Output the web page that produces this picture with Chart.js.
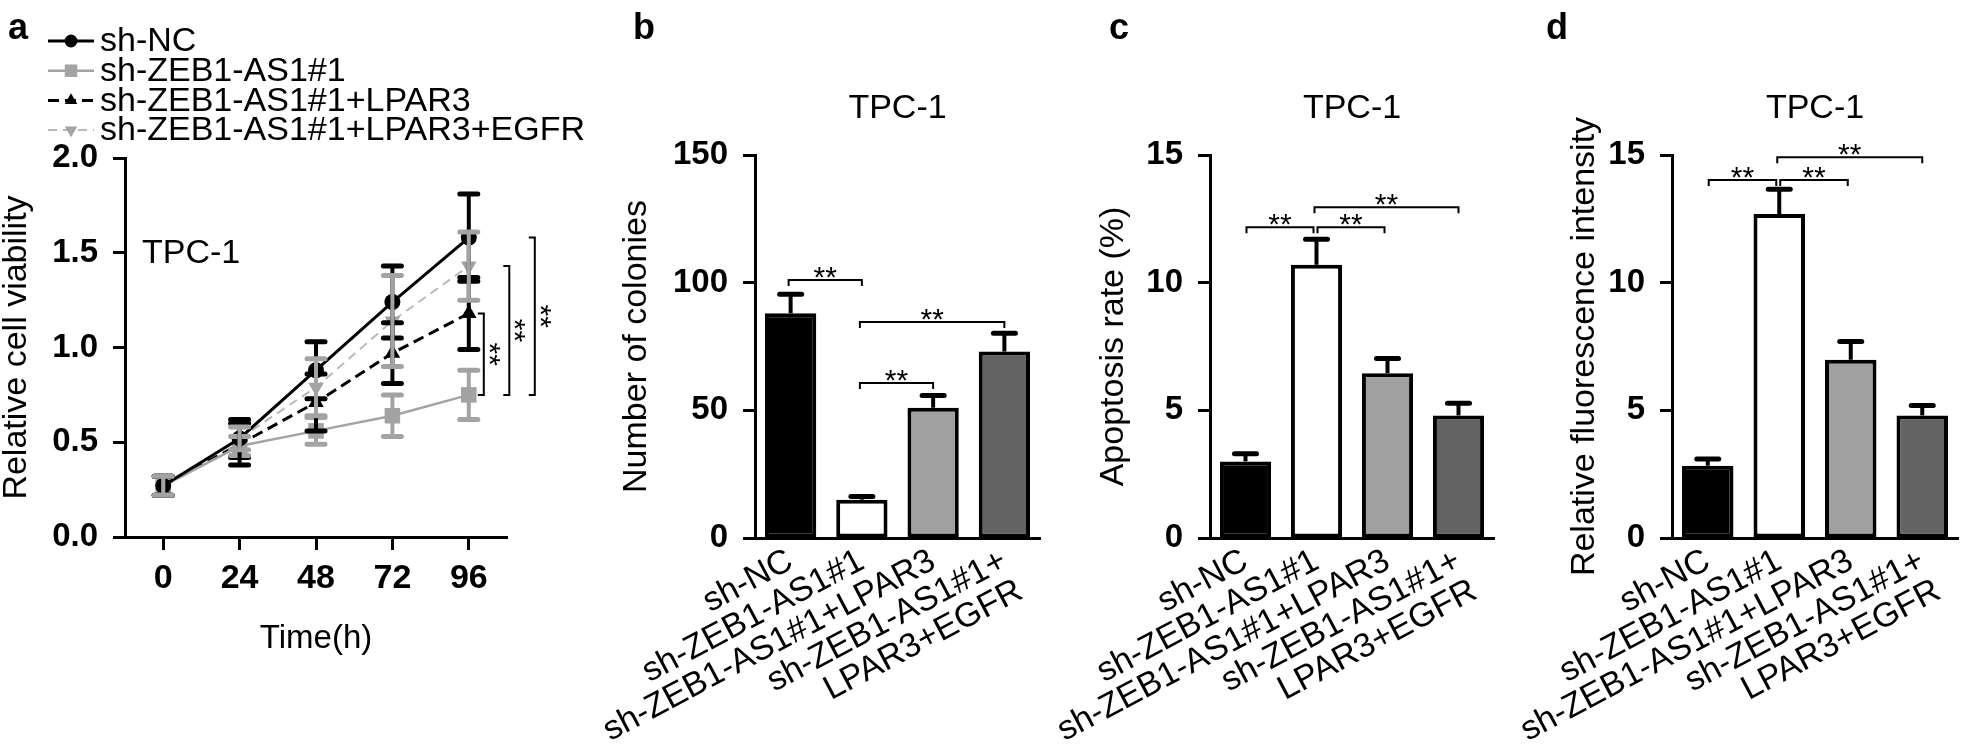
<!DOCTYPE html>
<html>
<head>
  <meta charset="utf-8">
  <title>TPC-1 viability, colonies, apoptosis, fluorescence</title>
  <script src="https://cdn.jsdelivr.net/npm/chart.js@4.4.1/dist/chart.umd.min.js"></script>
  <style>
    html, body { margin: 0; padding: 0; background: #ffffff; }
    #fig { position: relative; width: 1961px; height: 749px; overflow: hidden; }
    #fig canvas { position: absolute; left: 0; top: 0; }
  </style>
</head>
<body>
<div id="fig">
  <canvas id="chartA" width="1961" height="749"></canvas>
  <canvas id="chartB" width="1961" height="749"></canvas>
  <canvas id="chartC" width="1961" height="749"></canvas>
  <canvas id="chartD" width="1961" height="749"></canvas>
</div>
<script>
var FONT = "'Liberation Sans', Arial, Helvetica, sans-serif";

// ---- panel a : relative cell viability over time
var hours = [0, 24, 48, 72, 96];
var hourTicks = [0, 24, 48, 72, 96];
var viabTicks = [0, 0.5, 1.0, 1.5, 2.0];
var groupNames = ['sh-NC', 'sh-ZEB1-AS1#1', 'sh-ZEB1-AS1#1+LPAR3', 'sh-ZEB1-AS1#1+LPAR3+EGFR'];
var ncViab     = [0.27, 0.52, 0.88, 1.24, 1.58];
var ncViabSd   = [0.05, 0.10, 0.15, 0.19, 0.23];
var zebViab    = [0.27, 0.48, 0.56, 0.64, 0.75];
var zebViabSd  = [0.05, 0.05, 0.07, 0.11, 0.13];
var lparViab   = [0.27, 0.49, 0.71, 0.97, 1.18];
var lparViabSd = [0.05, 0.11, 0.15, 0.16, 0.19];
var egfrViab   = [0.27, 0.52, 0.79, 1.14, 1.43];
var egfrViabSd = [0.05, 0.06, 0.15, 0.24, 0.18];
// ** at 96 h, each group against sh-ZEB1-AS1#1 (index 1)
var viabSig = [2, 3, 0];

// ---- panels b, c, d : bar charts
var barLabels = [['sh-NC'], ['sh-ZEB1-AS1#1'], ['sh-ZEB1-AS1#1+LPAR3'], ['sh-ZEB1-AS1#1+', 'LPAR3+EGFR']];
var colonies     = [88, 15, 51, 73];
var coloniesSd   = [7.5, 1.3, 4.8, 7.2];
var colonyTicks  = [0, 50, 100, 150];
var colonySig    = [[0, 1, 101], [1, 3, 84.6], [1, 2, 60.7]];
var apoptosis    = [3.0, 10.7, 6.45, 4.8];
var apoptosisSd  = [0.3, 1.0, 0.58, 0.48];
var apoptosisTicks = [0, 5, 10, 15];
var apoptosisSig = [[0, 1, 12.17], [1, 2, 12.17], [1, 3, 12.95]];
var fluor        = [2.83, 12.69, 6.98, 4.8];
var fluorSd      = [0.26, 0.97, 0.72, 0.39];
var fluorTicks   = [0, 5, 10, 15];
var fluorSig     = [[0, 1, 14.02], [1, 2, 14.02], [1, 3, 14.91]];

var barFills = ['#000000', '#ffffff', '#a0a0a0', '#636363'];

Chart.defaults.font.family = FONT;
Chart.defaults.color = '#000';

function seg(ctx, x1, y1, x2, y2) {
  ctx.beginPath(); ctx.moveTo(x1, y1); ctx.lineTo(x2, y2); ctx.stroke();
}

function marker(ctx, style, x, y, r, rot, color) {
  ctx.save();
  ctx.fillStyle = color;
  ctx.beginPath();
  if (style === 'circle') {
    ctx.arc(x, y, r, 0, Math.PI * 2);
  } else if (style === 'rect') {
    var s = r * Math.SQRT1_2;
    ctx.rect(x - s, y - s, 2 * s, 2 * s);
  } else {
    var a = (rot || 0) * Math.PI / 180;
    for (var k = 0; k < 3; k++) {
      var t = a + k * 2 * Math.PI / 3;
      if (k === 0) ctx.moveTo(x + Math.sin(t) * r, y - Math.cos(t) * r);
      else ctx.lineTo(x + Math.sin(t) * r, y - Math.cos(t) * r);
    }
    ctx.closePath();
  }
  ctx.fill();
  ctx.restore();
}

function stars(ctx, x, y, vertical) {
  ctx.save();
  ctx.fillStyle = '#000';
  ctx.font = '30px ' + FONT;
  ctx.textAlign = 'center';
  ctx.textBaseline = 'alphabetic';
  if (vertical) {
    ctx.translate(x - 17, y);
    ctx.rotate(Math.PI / 2);
    ctx.fillText('**', 0, 0);
  } else {
    ctx.fillText('**', x, y + 17);
  }
  ctx.restore();
}

function fixBox(w, h) {
  return function(scale) {
    if (w !== null) scale.width = w;
    if (h !== null) scale.height = h;
    scale.paddingLeft = 0; scale.paddingRight = 0;
    scale.paddingTop = 0; scale.paddingBottom = 0;
  };
}

function tickList(list) {
  return function(scale) {
    scale.ticks = list.map(function(v) { return { value: v }; });
  };
}

var decoPlugin = {
  id: 'deco',
  afterDatasetsDraw: function(chart, args, o) {
    var ctx = chart.ctx, ys = chart.scales.y, xs = chart.scales.x;
    ctx.save();
    if (o.kind === 'line') {
      chart.data.datasets.forEach(function(ds, i) {
        ctx.strokeStyle = o.errColors[i];
        o.errors[i].forEach(function(e, j) {
          var px = xs.getPixelForValue(ds.data[j].x);
          var hi = ys.getPixelForValue(ds.data[j].y + e);
          var lo = ys.getPixelForValue(ds.data[j].y - e);
          ctx.lineCap = 'butt'; ctx.lineWidth = 4;
          seg(ctx, px, hi, px, lo);
          ctx.lineCap = 'round'; ctx.lineWidth = 5;
          seg(ctx, px - 9, hi, px + 9, hi);
          seg(ctx, px - 9, lo, px + 9, lo);
        });
      });
    } else {
      var meta = chart.getDatasetMeta(0);
      var vals = chart.data.datasets[0].data;
      ctx.strokeStyle = '#000';
      meta.data.forEach(function(bar, j) {
        var top = ys.getPixelForValue(vals[j]);
        var hi = ys.getPixelForValue(vals[j] + o.errors[j]);
        ctx.lineCap = 'butt'; ctx.lineWidth = 4;
        seg(ctx, bar.x, top, bar.x, hi);
        ctx.lineCap = 'round'; ctx.lineWidth = 5;
        seg(ctx, bar.x - 11, hi, bar.x + 11, hi);
      });
    }
    ctx.restore();
  },
  afterDraw: function(chart, args, o) {
    var ctx = chart.ctx, ys = chart.scales.y, xs = chart.scales.x, area = chart.chartArea;
    ctx.save();
    ctx.fillStyle = '#000';
    ctx.strokeStyle = '#000';
    // panel letter
    ctx.font = 'bold 36px ' + FONT;
    ctx.textAlign = 'left';
    ctx.textBaseline = 'alphabetic';
    ctx.fillText(o.letter, o.letterX, 39);
    // cell line name
    ctx.font = '34px ' + FONT;
    ctx.textBaseline = 'middle';
    if (o.kind === 'line') {
      ctx.fillText('TPC-1', area.left + 17, 254);
    } else {
      ctx.textAlign = 'center';
      ctx.fillText('TPC-1', (area.left + area.right) / 2, 109);
    }

    if (o.kind === 'line') {
      // legend
      chart.data.datasets.forEach(function(ds, i) {
        var y = 41 + i * 29.7;
        ctx.save();
        ctx.strokeStyle = ds.borderColor;
        ctx.lineWidth = ds.borderWidth;
        ctx.setLineDash(ds.borderDash || []);
        seg(ctx, 48, y, 94, y);
        ctx.setLineDash([]);
        marker(ctx, ds.pointStyle, 71, y, ds.pointRadius * 0.8, ds.pointRotation, ds.pointBackgroundColor);
        ctx.fillStyle = '#000';
        ctx.font = '34px ' + FONT;
        ctx.textAlign = 'left';
        ctx.textBaseline = 'middle';
        ctx.fillText(ds.label, 100, y + 1);
        ctx.restore();
      });
      // vertical significance brackets at the last time point
      var last = hours.length - 1;
      var base = xs.getPixelForValue(hours[last]);
      var lo = ys.getPixelForValue(chart.data.datasets[1].data[last].y);
      ctx.lineWidth = 2;
      o.sig.forEach(function(g, k) {
        var bx = base + 15 + k * 25.5;
        var hi = ys.getPixelForValue(chart.data.datasets[g].data[last].y);
        ctx.beginPath();
        ctx.moveTo(bx - 6, hi); ctx.lineTo(bx, hi); ctx.lineTo(bx, lo); ctx.lineTo(bx - 6, lo);
        ctx.stroke();
        stars(ctx, bx + 13, (hi + lo) / 2, true);
      });
    } else {
      ctx.lineWidth = 2;
      o.sig.forEach(function(s) {
        var shared = o.sig.some(function(t) { return t !== s && t[2] === s[2]; });
        var x1 = xs.getPixelForValue(s[0]) + (shared ? 3 : 0) - 2;
        var x2 = xs.getPixelForValue(s[1]) - (shared ? 3 : 0);
        var y = ys.getPixelForValue(s[2]);
        ctx.beginPath();
        ctx.moveTo(x1, y + 6); ctx.lineTo(x1, y); ctx.lineTo(x2, y); ctx.lineTo(x2, y + 6);
        ctx.stroke();
        stars(ctx, (x1 + x2) / 2, y - 10, false);
      });
    }
    ctx.restore();
  }
};

function yAxis(list, max, title, width, fmt) {
  return {
    min: 0, max: max,
    afterBuildTicks: tickList(list),
    afterFit: fixBox(width, null),
    grid: { display: true, drawOnChartArea: false, drawTicks: true, tickLength: 12, tickWidth: 3, tickColor: '#000' },
    border: { display: true, color: '#000', width: 3 },
    ticks: { font: { size: 33, weight: 'bold' }, padding: 15, color: '#000', callback: fmt },
    title: { display: true, text: title, font: { size: 34, lineHeight: 1 }, padding: { top: 0, bottom: 0 }, color: '#000' }
  };
}

// ---- panel a
new Chart(document.getElementById('chartA'), {
  type: 'line',
  data: {
    datasets: [
      { label: groupNames[0], data: hours.map(function(h, i) { return { x: h, y: ncViab[i] }; }),
        borderColor: '#000', backgroundColor: '#000', pointBackgroundColor: '#000', borderWidth: 3,
        pointStyle: 'circle', pointRadius: 8, pointBorderWidth: 0 },
      { label: groupNames[1], data: hours.map(function(h, i) { return { x: h, y: zebViab[i] }; }),
        borderColor: '#a3a3a3', backgroundColor: '#a3a3a3', pointBackgroundColor: '#a3a3a3', borderWidth: 2.5,
        pointStyle: 'rect', pointRadius: 11, pointBorderWidth: 0 },
      { label: groupNames[2], data: hours.map(function(h, i) { return { x: h, y: lparViab[i] }; }),
        borderColor: '#000', backgroundColor: '#000', pointBackgroundColor: '#000', borderWidth: 3, borderDash: [11, 6],
        pointStyle: 'triangle', pointRadius: 9, pointBorderWidth: 0 },
      { label: groupNames[3], data: hours.map(function(h, i) { return { x: h, y: egfrViab[i] }; }),
        borderColor: '#b8b8b8', backgroundColor: '#a3a3a3', pointBackgroundColor: '#a3a3a3', borderWidth: 2, borderDash: [9, 6],
        pointStyle: 'triangle', pointRotation: 180, pointRadius: 9, pointBorderWidth: 0 }
    ]
  },
  options: {
    responsive: false, animation: false, events: [],
    layout: { padding: { left: 0, right: 1961 - 507, top: 158, bottom: 0 } },
    plugins: {
      legend: { display: false }, tooltip: { enabled: false },
      deco: { kind: 'line', letter: 'a', letterX: 8, sig: viabSig,
              errors: [ncViabSd, zebViabSd, lparViabSd, egfrViabSd],
              errColors: ['#000', '#a3a3a3', '#000', '#a3a3a3'] }
    },
    scales: {
      x: {
        type: 'linear', min: -12, max: 108,
        afterBuildTicks: tickList(hourTicks),
        afterFit: fixBox(null, 749 - 537),
        grid: { display: true, drawOnChartArea: false, drawTicks: true, tickLength: 13, tickWidth: 3, tickColor: '#000' },
        border: { display: true, color: '#000', width: 3 },
        ticks: { font: { size: 34, weight: 'bold' }, padding: 8, color: '#000', maxRotation: 0 },
        title: { display: true, text: 'Time(h)', font: { size: 33 }, padding: { top: 0, bottom: 90 }, color: '#000' }
      },
      y: yAxis(viabTicks, 2, 'Relative cell viability', 125, function(v) { return v.toFixed(1); })
    }
  },
  plugins: [decoPlugin]
});

function barChart(id, cfg) {
  return new Chart(document.getElementById(id), {
    type: 'bar',
    data: {
      labels: barLabels,
      datasets: [{ data: cfg.values, backgroundColor: barFills, borderColor: '#000', borderWidth: 4,
                   borderSkipped: false, barPercentage: 0.72, categoryPercentage: 1 }]
    },
    options: {
      responsive: false, animation: false, events: [],
      layout: { padding: { left: cfg.padLeft, right: 1961 - cfg.right, top: 155, bottom: 0 } },
      plugins: {
        legend: { display: false }, tooltip: { enabled: false },
        deco: { kind: 'bar', letter: cfg.letter, letterX: cfg.letterX, sig: cfg.sig, errors: cfg.errors }
      },
      scales: {
        x: {
          afterFit: fixBox(null, 749 - 538),
          grid: { display: false, drawTicks: false },
          border: { display: true, color: '#000', width: 3 },
          ticks: { autoSkip: false, minRotation: 28, maxRotation: 28, padding: 6, color: '#000',
                   font: { size: 34, lineHeight: 1 } }
        },
        y: yAxis(cfg.ticks, cfg.max, cfg.title, cfg.axisX - cfg.padLeft, function(v) { return String(v); })
      }
    },
    plugins: [decoPlugin]
  });
}

barChart('chartB', { values: colonies, errors: coloniesSd, ticks: colonyTicks, max: 150,
  title: 'Number of colonies', sig: colonySig, letter: 'b', letterX: 633,
  padLeft: 620, axisX: 755, right: 1040 });
barChart('chartC', { values: apoptosis, errors: apoptosisSd, ticks: apoptosisTicks, max: 15,
  title: 'Apoptosis rate (%)', sig: apoptosisSig, letter: 'c', letterX: 1109,
  padLeft: 1097, axisX: 1210, right: 1494 });
barChart('chartD', { values: fluor, errors: fluorSd, ticks: fluorTicks, max: 15,
  title: 'Relative fluorescence intensity', sig: fluorSig, letter: 'd', letterX: 1546,
  padLeft: 1568, axisX: 1672, right: 1958 });
</script>
</body>
</html>
